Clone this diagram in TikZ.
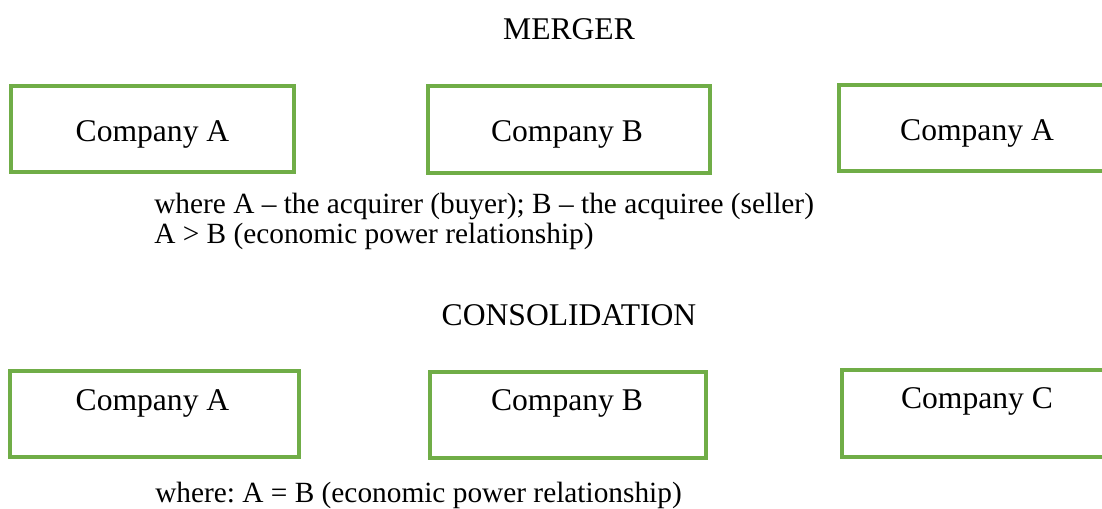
\documentclass[tikz,border=0pt]{standalone}
\usepackage{fontspec}
\setmainfont{Liberation Serif}
\definecolor{boxgreen}{HTML}{70AD47}
\begin{document}
\frenchspacing
\begin{tikzpicture}[x=0.75pt,y=-0.75pt,
  box/.style={draw=boxgreen,line width=2.4pt,rectangle,inner sep=0pt,outer sep=0pt},
  txt/.style={anchor=base,inner sep=0pt,font=\fontsize{23.7}{28}\selectfont},
  ltxt/.style={anchor=base west,inner sep=0pt,font=\fontsize{22}{26}\selectfont}]
\useasboundingbox (0,0) rectangle (1102,508);
\clip (0,0) rectangle (1102,508);
% MERGER
\node[txt] (mtitle) at (569,39) {MERGER};
\node[box,minimum width=283*0.75pt,minimum height=86*0.75pt] (m1) at (152.5,129) {};
\node[box,minimum width=282*0.75pt,minimum height=87*0.75pt] (m2) at (569,129.5) {};
\node[box,minimum width=300*0.75pt,minimum height=86*0.75pt] (m3) at (989,128) {};
\node[txt] (m1t) at (152.5,141) {Company A};
\node[txt] (m2t) at (567,141) {Company B};
\node[txt] (m3t) at (977,140) {Company A};
\node[ltxt] (mnote1) at (154,213) {where A -- the acquirer (buyer); B -- the acquiree (seller)};
\node[ltxt] (mnote2) at (154,243) {A > B (economic power relationship)};
% CONSOLIDATION
\node[txt] (ctitle) at (569,325) {CONSOLIDATION};
\node[box,minimum width=289*0.75pt,minimum height=86*0.75pt] (c1) at (154.5,414) {};
\node[box,minimum width=276*0.75pt,minimum height=86*0.75pt] (c2) at (568,415) {};
\node[box,minimum width=300*0.75pt,minimum height=87*0.75pt] (c3) at (992,413.5) {};
\node[txt] (c1t) at (152.5,410) {Company A};
\node[txt] (c2t) at (567,410) {Company B};
\node[txt] (c3t) at (977,408) {Company C};
\node[ltxt] (cnote) at (155,502) {where: A = B (economic power relationship)};
\end{tikzpicture}
\end{document}
